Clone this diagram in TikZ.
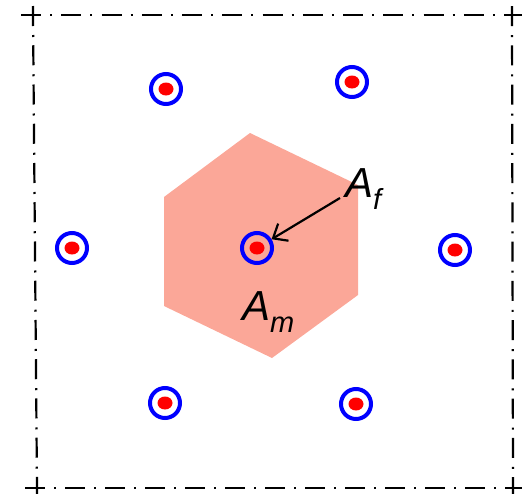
\documentclass[tikz,border=0pt]{standalone}
\usepackage{fontspec}
\setmainfont{Liberation Sans}
\usetikzlibrary{arrows.meta}
\definecolor{matrixred}{RGB}{251,167,152}

\newcommand{\areasym}[1]{\fontsize{42}{42}\selectfont\itshape A\raisebox{-12pt}{\fontsize{29}{29}\selectfont #1}}

\begin{document}
\begin{tikzpicture}[x=1pt,y=-1pt,
  fiber/.style={circle,draw=blue,line width=4pt,minimum size=30pt,inner sep=0pt},
  frameline/.style={line width=2.2pt,dash pattern=on 20pt off 9pt on 2pt off #1},
  pointer/.style={line width=2.2pt,-{Straight Barb[length=12pt,width=20pt]}}]
\useasboundingbox (0,0) rectangle (522,493);

% matrix cell
\fill[matrixred] (250,133) -- (358,185) -- (358,295) -- (272,358) -- (164,306) -- (164,197) -- cycle;

% frame
\coordinate (tl) at (33,15);
\coordinate (tr) at (512,15);
\coordinate (bl) at (37,488);
\coordinate (br) at (513,488);
\draw[frameline=9.25pt,shorten <=-12pt,shorten >=-12pt] (tl) -- (tr);
\draw[frameline=9pt,shorten <=-12pt,shorten >=-12pt] (bl) -- (br);
\draw[frameline=8.25pt,shorten <=-9pt,shorten >=-9pt] (tl) -- (bl);
\draw[frameline=8.25pt,shorten <=-9pt,shorten >=-9pt] (tr) -- (br);

% fibers
\foreach \name/\pos in {f0/{(257,248)},f1/{(166,89)},f2/{(352,82)},f3/{(72,248)},
                        f4/{(455,250)},f5/{(165,403)},f6/{(356,404)}}{
  \node[fiber] (\name) at \pos {};
  \fill[red] (\name) ellipse (7.5 and 6.5);
}

% labels
\node[anchor=base west,inner sep=0pt] (af) at (345,197) {\areasym{f}};
\node[anchor=base west,inner sep=0pt] (am) at (242,320) {\areasym{m}};
\draw[pointer] ([xshift=-5pt,yshift=-1pt]af.base west) -- (f0);
\end{tikzpicture}
\end{document}
